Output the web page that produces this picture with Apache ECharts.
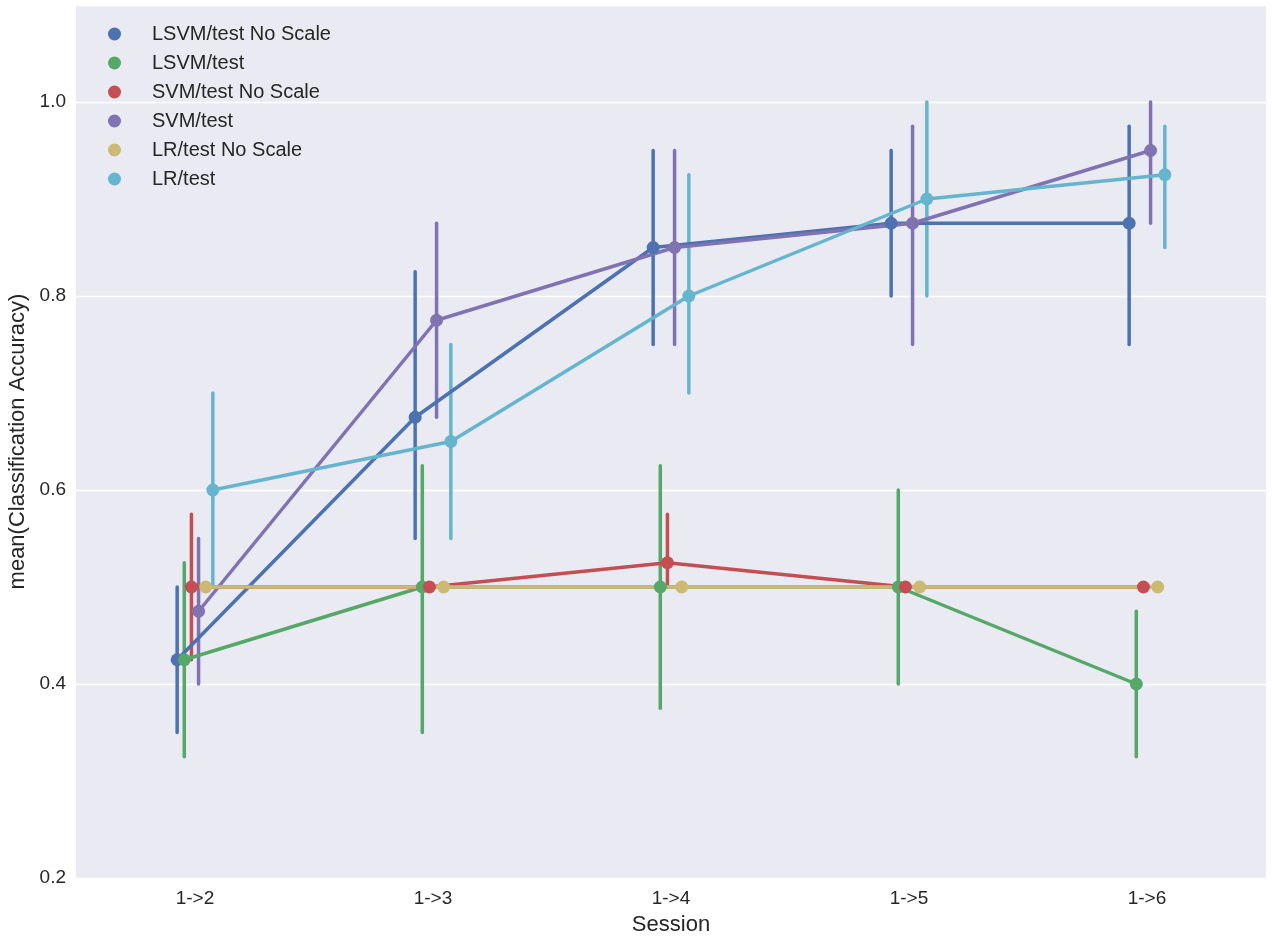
<!DOCTYPE html>
<html>
<head>
<meta charset="utf-8">
<script src="https://cdn.jsdelivr.net/npm/echarts@6/dist/echarts.min.js"></script>
<style>
html,body{margin:0;padding:0;background:#fff;}
#chart{width:1272px;height:938px;}
</style>
</head>
<body>
<div id="chart"></div>
<script>
const categories = ['1->2', '1->3', '1->4', '1->5', '1->6'];
const seriesNames = ['LSVM/test No Scale', 'LSVM/test', 'SVM/test No Scale', 'SVM/test', 'LR/test No Scale', 'LR/test'];
const colors = ['#4C72B0', '#55A868', '#C44E52', '#8172B2', '#CCB974', '#64B5CD'];

const lsvmNoScaleMean = [0.425, 0.675, 0.85, 0.875, 0.875];
const lsvmNoScaleLow  = [0.35, 0.55, 0.75, 0.8, 0.75];
const lsvmNoScaleHigh = [0.5, 0.825, 0.95, 0.95, 0.975];

const lsvmMean = [0.425, 0.5, 0.5, 0.5, 0.4];
const lsvmLow  = [0.325, 0.35, 0.375, 0.4, 0.325];
const lsvmHigh = [0.525, 0.625, 0.625, 0.6, 0.475];

const svmNoScaleMean = [0.5, 0.5, 0.525, 0.5, 0.5];
const svmNoScaleLow  = [0.425, 0.5, 0.5, 0.5, 0.5];
const svmNoScaleHigh = [0.575, 0.5, 0.575, 0.5, 0.5];

const svmMean = [0.475, 0.775, 0.85, 0.875, 0.95];
const svmLow  = [0.4, 0.675, 0.75, 0.75, 0.875];
const svmHigh = [0.55, 0.875, 0.95, 0.975, 1.0];

const lrNoScaleMean = [0.5, 0.5, 0.5, 0.5, 0.5];
const lrNoScaleLow  = [0.5, 0.5, 0.5, 0.5, 0.5];
const lrNoScaleHigh = [0.5, 0.5, 0.5, 0.5, 0.5];

const lrMean = [0.6, 0.65, 0.8, 0.9, 0.925];
const lrLow  = [0.5, 0.55, 0.7, 0.8, 0.85];
const lrHigh = [0.7, 0.75, 0.925, 1.0, 0.975];

const yTicks = [0.2, 0.4, 0.6, 0.8, 1.0];

const means = [lsvmNoScaleMean, lsvmMean, svmNoScaleMean, svmMean, lrNoScaleMean, lrMean];
const lows = [lsvmNoScaleLow, lsvmLow, svmNoScaleLow, svmLow, lrNoScaleLow, lrLow];
const highs = [lsvmNoScaleHigh, lsvmHigh, svmNoScaleHigh, svmHigh, lrNoScaleHigh, lrHigh];

// seaborn-style dodge
const dodge = 0.15;
const n = seriesNames.length;
const offsets = seriesNames.map((_, k) => -dodge / 2 + dodge * k / (n - 1));

const FONT = 'Liberation Sans, Arial, sans-serif';
const TXT = '#262626';

const series = [];
seriesNames.forEach((name, k) => {
  const errData = categories.map((c, i) => [i + offsets[k], lows[k][i], highs[k][i]]);
  series.push({
    type: 'custom',
    name: name,
    xAxisIndex: 1,
    z: 2,
    silent: true,
    data: errData,
    renderItem: function (params, api) {
      const p1 = api.coord([api.value(0), api.value(1)]);
      const p2 = api.coord([api.value(0), api.value(2)]);
      if (Math.abs(p1[1] - p2[1]) < 0.5) return null;
      return {
        type: 'line',
        shape: { x1: p1[0], y1: p1[1], x2: p2[0], y2: p2[1] },
        style: { stroke: colors[k], lineWidth: 3.5, lineCap: 'round' }
      };
    }
  });
  series.push({
    type: 'line',
    name: name,
    xAxisIndex: 1,
    z: 3,
    data: categories.map((c, i) => [i + offsets[k], means[k][i]]),
    symbol: 'none',
    lineStyle: { color: colors[k], width: 3.5 },
    itemStyle: { color: colors[k] },
    silent: true
  });
});
seriesNames.forEach((name, k) => {
  series.push({
    type: 'scatter',
    name: name,
    xAxisIndex: 1,
    z: 10,
    symbol: 'circle',
    symbolSize: 13,
    itemStyle: { color: colors[k], opacity: 1 },
    data: categories.map((c, i) => [i + offsets[k], means[k][i]]),
    silent: true
  });
});

const chart = echarts.init(document.getElementById('chart'), null, { renderer: 'canvas' });
chart.setOption({
  animation: false,
  backgroundColor: '#ffffff',
  color: colors,
  grid: {
    left: 76, right: 6, top: 5, bottom: 60,
    outerBoundsMode: 'none', containLabel: false,
    show: true, backgroundColor: '#EAEAF2', borderWidth: 0
  },
  legend: {
    orient: 'vertical',
    left: 103,
    top: 19,
    icon: 'circle',
    itemWidth: 13,
    itemHeight: 13,
    itemGap: 9,
    data: seriesNames,
    textStyle: { fontFamily: FONT, fontSize: 20, color: TXT, lineHeight: 20, padding: [0, 0, 0, 26] }
  },
  xAxis: [
    {
      type: 'category',
      data: categories,
      boundaryGap: true,
      name: 'Session',
      nameLocation: 'middle',
      nameGap: 36,
      nameTextStyle: { fontFamily: FONT, fontSize: 22, color: TXT },
      axisLine: { show: false },
      axisTick: { show: false },
      splitLine: { show: false },
      axisLabel: { fontFamily: FONT, fontSize: 19, color: TXT, margin: 11 }
    },
    {
      type: 'value',
      min: -0.5,
      max: 4.5,
      show: false,
      splitLine: { show: false }
    }
  ],
  yAxis: {
    type: 'value',
    min: 0.2,
    max: 1.1,
    interval: 0.2,
    name: 'mean(Classification Accuracy)',
    nameLocation: 'middle',
    nameGap: 43,
    nameTextStyle: { fontFamily: FONT, fontSize: 22, color: TXT },
    axisLine: { show: false },
    axisTick: { show: false },
    splitLine: { show: true, lineStyle: { color: '#ffffff', width: 1.3 } },
    axisLabel: {
      fontFamily: FONT, fontSize: 19, color: TXT, margin: 10,
      showMaxLabel: false,
      formatter: function (v) {
        const t = yTicks.find(tt => Math.abs(tt - v) < 1e-6);
        return t === undefined ? '' : t.toFixed(1);
      }
    }
  },
  series: series
});
</script>
</body>
</html>
